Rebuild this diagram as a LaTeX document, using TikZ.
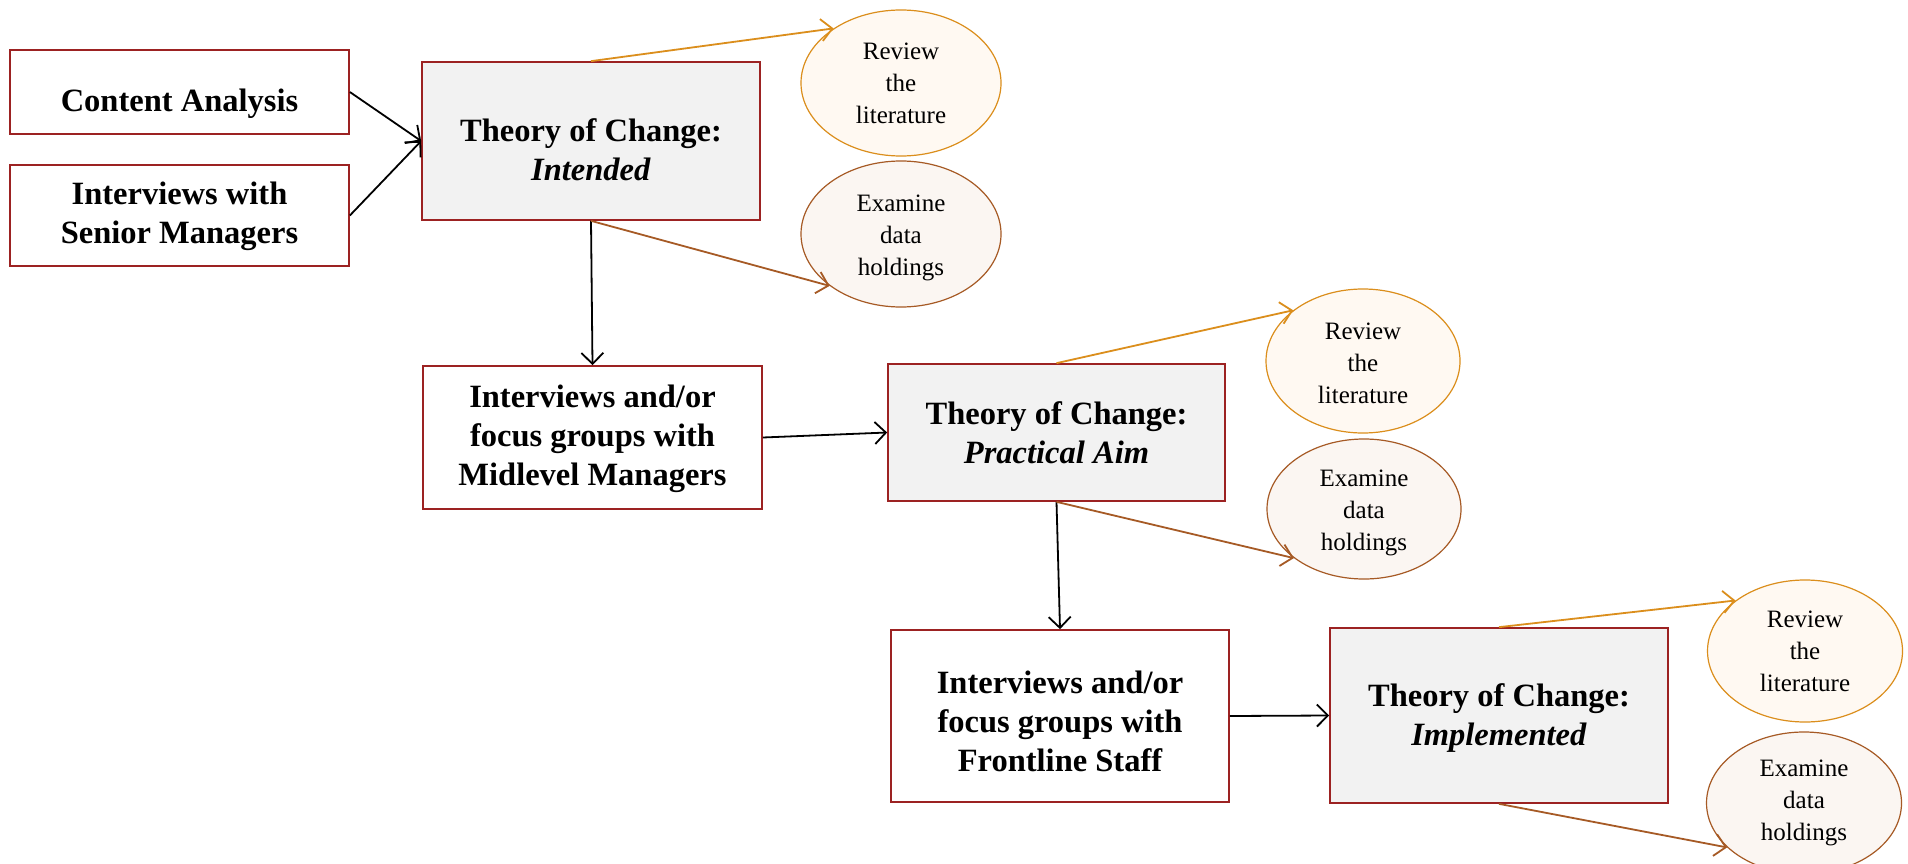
\documentclass[tikz,border=0pt]{standalone}
\usepackage{fontspec}
\setmainfont{Liberation Serif}
\usetikzlibrary{shapes.geometric,arrows.meta}
\definecolor{boxred}{HTML}{9C2222}
\definecolor{tocfill}{HTML}{F2F2F2}
\definecolor{revline}{HTML}{DB8E1C}
\definecolor{revfill}{HTML}{FFF9F2}
\definecolor{exline}{HTML}{A65A25}
\definecolor{exfill}{HTML}{FBF6F2}
\tikzset{
  stepbox/.style={draw=boxred, line width=1.7pt, rectangle, align=center, inner sep=0pt,
    font=\bfseries\fontsize{32.5}{39}\selectfont},
  tocbox/.style={stepbox, fill=tocfill},
  revell/.style={ellipse, draw=revline, fill=revfill, line width=1.2pt, inner sep=0pt, align=center,
    font=\fontsize{25}{32}\selectfont},
  exell/.style={ellipse, draw=exline, fill=exfill, line width=1.2pt, inner sep=0pt, align=center,
    font=\fontsize{25}{32}\selectfont},
  blackarrow/.style={draw=black, line width=1.8pt, -{Straight Barb[length=11pt,width=22pt,line width=1.8pt]}},
  revarrow/.style={blackarrow, draw=revline},
  exarrow/.style={blackarrow, draw=exline},
}
\newcommand{\lowerby}[1]{\rule{0pt}{\dimexpr 22.5pt+#1\relax}}
\begin{document}
\begin{tikzpicture}[x=1pt,y=-1pt]
\useasboundingbox (0,0) rectangle (1908,864);
\clip (0,0) rectangle (1908,864);
\fill[white] (0,0) rectangle (1908,864);

\node[stepbox, minimum width=339pt, minimum height=84pt] (ca) at (179.5,92) {\lowerby{24pt}Content Analysis};
\node[stepbox, minimum width=339pt, minimum height=101pt] (sm) at (179.5,215.5) {\lowerby{2pt}Interviews with\\Senior Managers};
\node[tocbox, minimum width=338pt, minimum height=158pt] (toci) at (591,141) {\lowerby{18pt}Theory of Change:\\\textit{Intended}};
\node[stepbox, minimum width=339pt, minimum height=143pt] (mid) at (592.5,437.5) {\lowerby{3pt}Interviews and/or\\focus groups with\\Midlevel Managers};
\node[tocbox, minimum width=337pt, minimum height=137pt] (tocp) at (1056.5,432.5) {Theory of Change:\\\textit{Practical Aim}};
\node[stepbox, minimum width=338pt, minimum height=172pt] (fl) at (1060,716) {\lowerby{10pt}Interviews and/or\\focus groups with\\Frontline Staff};
\node[tocbox, minimum width=338pt, minimum height=175pt] (tocm) at (1499,715.5) {\lowerby{5pt}Theory of Change:\\\textit{Implemented}};

\node[revell, minimum width=200pt, minimum height=146pt] (rev1) at (901,83) {Review\\the\\literature};
\node[exell, minimum width=200pt, minimum height=146pt] (ex1) at (901,234) {\rule{0pt}{24pt}Examine\\data\\holdings};
\node[revell, minimum width=194pt, minimum height=144pt] (rev2) at (1363,361) {\rule{0pt}{21pt}Review\\the\\literature};
\node[exell, minimum width=194pt, minimum height=140pt] (ex2) at (1364,509) {\rule{0pt}{24pt}Examine\\data\\holdings};
\node[revell, minimum width=195pt, minimum height=142pt] (rev3) at (1805,651) {Review\\the\\literature};
\node[exell, minimum width=195pt, minimum height=142pt] (ex3) at (1804,803) {Examine\\data\\holdings};

\draw[blackarrow] (ca.east) -- (toci.west);
\draw[blackarrow] (sm.east) -- (toci.west);
\draw[blackarrow] (toci.south) -- (mid.north);
\draw[blackarrow] (mid.east) -- (tocp.west);
\draw[blackarrow] (tocp.south) -- (fl.north);
\draw[blackarrow] (fl.east) -- (tocm.west);

\draw[revarrow] (toci.north) -- (rev1.141);
\draw[exarrow] (toci.south) -- (ex1.216);
\draw[revarrow] (tocp.north) -- (rev2.144);
\draw[exarrow] (tocp.south) -- (ex2.215);
\draw[revarrow] (tocm.north) -- (rev3.144);
\draw[exarrow] (tocm.south) -- (ex3.210);
\end{tikzpicture}
\end{document}
